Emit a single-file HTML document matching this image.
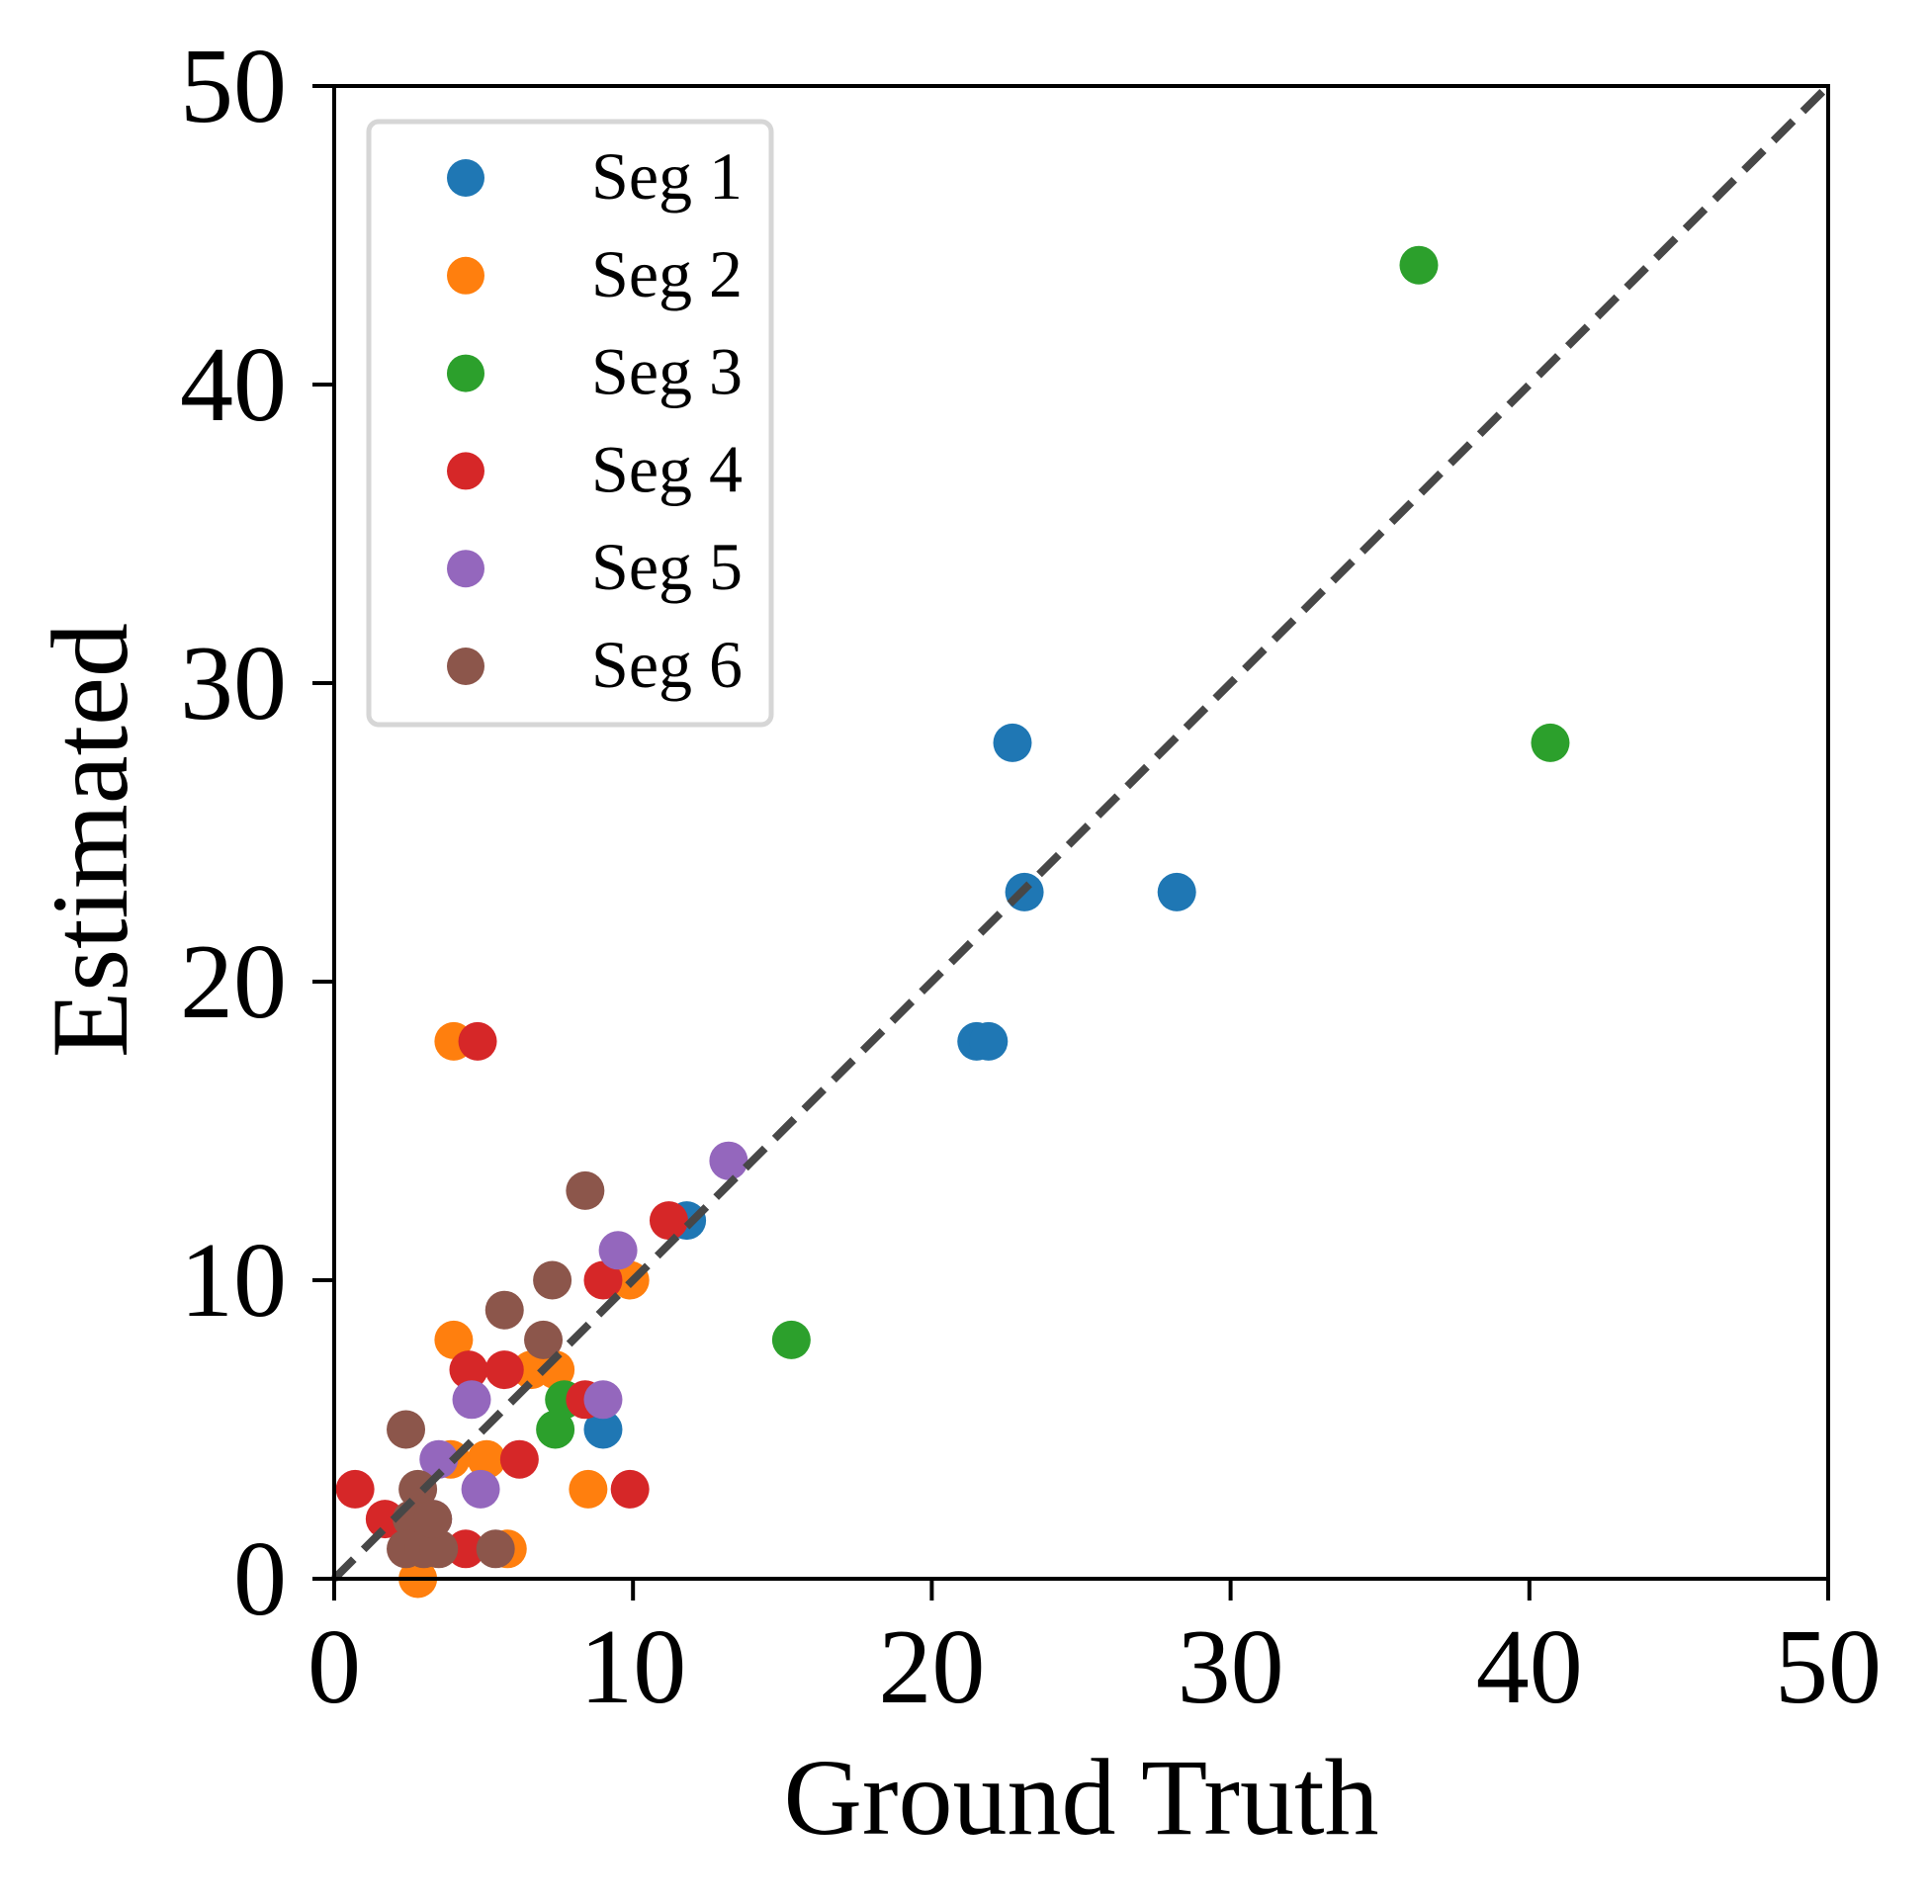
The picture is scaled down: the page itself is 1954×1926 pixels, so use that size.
<!DOCTYPE html>
<html><head><meta charset="utf-8"><style>
html,body{margin:0;padding:0;background:#fff;}
svg{display:block;font-family:"Liberation Serif","Times New Roman",serif;}
</style></head><body>
<svg id="chart" width="1954" height="1926" viewBox="0 0 1954 1926">
<rect width="1954" height="1926" fill="#fff"/>
<g id="plot"></g>
</svg>
<script>
const seg1X=[22.7,23.1,28.2,21.5,21.9,11.8,9.0];
const seg1Y=[28,23,23,18,18,12,5];
const seg2X=[4.0,9.9,4.0,6.6,7.4,5.1,3.9,8.5,5.8,2.8];
const seg2Y=[18,10,8,7,7,4,4,3,1,0];
const seg3X=[36.3,40.7,15.3,7.7,7.4];
const seg3Y=[44,28,8,6,5];
const seg4X=[4.8,11.2,9.0,4.5,5.7,8.4,6.2,0.7,9.9,1.7,4.4];
const seg4Y=[18,12,10,7,7,6,4,3,3,2,1];
const seg5X=[13.2,9.5,4.6,9.0,3.5,4.9,3.3];
const seg5Y=[14,11,6,6,4,3,2];
const seg6X=[8.4,7.3,5.7,7.0,2.4,2.8,2.6,2.4,3.0,3.5,5.4,3.3];
const seg6Y=[13,10,9,8,5,3,2,1,1,1,1,2];
const seriesNames=["Seg 1","Seg 2","Seg 3","Seg 4","Seg 5","Seg 6"];
const seriesColors=["#1f77b4","#ff7f0e","#2ca02c","#d62728","#9467bd","#8c564b"];
const xTicks=[0,10,20,30,40,50];
const yTicks=[0,10,20,30,40,50];

const NS="http://www.w3.org/2000/svg";
const L=338,R=1849,T=87,B=1597;
const sx=v=>L+(v-0)/(50-0)*(R-L);
const sy=v=>B-(v-0)/(50-0)*(B-T);
const g=document.getElementById('plot');
function mk(tag,attrs,parent){const e=document.createElementNS(NS,tag);for(const k in attrs)e.setAttribute(k,attrs[k]);(parent||g).appendChild(e);return e;}

const xs=[seg1X,seg2X,seg3X,seg4X,seg5X,seg6X];
const ys=[seg1Y,seg2Y,seg3Y,seg4Y,seg5Y,seg6Y];
xs.forEach((X,si)=>{
  const grp=mk('g',{});
  
  
  X.forEach((xv,i)=>{
    const c=mk('circle',{cx:sx(xv),cy:sy(ys[si][i]),r:19.5,fill:seriesColors[si]},grp);
    
    
  });
});

const diag=mk('line',{x1:sx(0),y1:sy(0),x2:sx(50),y2:sy(50),stroke:'#474747','stroke-width':8,'stroke-dasharray':'28 14'});



const frame=mk('rect',{x:L,y:T,width:R-L,height:B-T,fill:'none',stroke:'#000','stroke-width':4});



xTicks.forEach(t=>{
  const tk=mk('line',{x1:sx(t),y1:B,x2:sx(t),y2:B+22,stroke:'#000','stroke-width':4});
  
  
  const tx=mk('text',{x:sx(t),y:1722,'font-size':108,'text-anchor':'middle',fill:'#000'});
  tx.textContent=t;
  
  
});
yTicks.forEach(t=>{
  const tk=mk('line',{x1:L-22,y1:sy(t),x2:L,y2:sy(t),stroke:'#000','stroke-width':4});
  
  
  const tx=mk('text',{x:290,y:sy(t)+36,'font-size':108,'text-anchor':'end',fill:'#000'});
  tx.textContent=t;
  
  
});

const xt=mk('text',{x:(L+R)/2,y:1855,'font-size':110,'text-anchor':'middle',fill:'#000'});
xt.textContent='Ground Truth';


const yt=mk('text',{x:0,y:0,'font-size':110,'text-anchor':'middle',fill:'#000',transform:'translate(128,850) rotate(-90)'});
yt.textContent='Estimated';



const leg=mk('g',{});


const lb=mk('rect',{x:373,y:123,width:407,height:610,rx:10,fill:'#fff',stroke:'#d6d6d6','stroke-width':5},leg);


seriesNames.forEach((n,i)=>{
  const cy=180+i*98.8;
  const e=mk('g',{},leg);
  
  
  mk('circle',{cx:471,cy:cy,r:19,fill:seriesColors[i]},e);
  const t=mk('text',{x:598,y:cy+21,'font-size':68,fill:'#000'},e);
  t.textContent=n;
});
</script>
</body></html>
